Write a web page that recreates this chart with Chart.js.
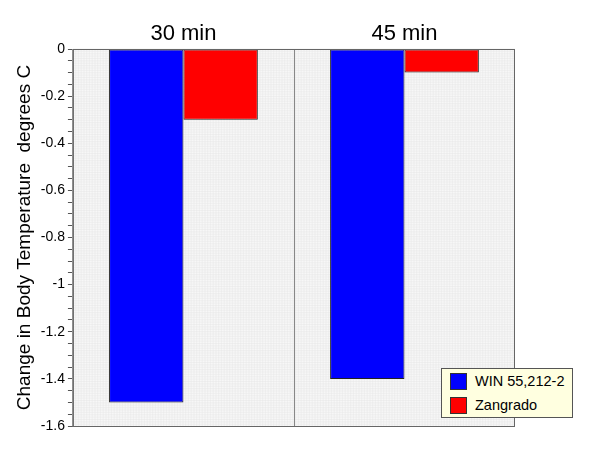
<!DOCTYPE html>
<html>
<head>
<meta charset="utf-8">
<script src="https://cdn.jsdelivr.net/npm/chart.js@4.4.1/dist/chart.umd.min.js"></script>
<style>
  body { margin: 0; background: #fff; }
  #wrap { position: relative; width: 600px; height: 473px; }
  #legend {
    position: absolute; left: 441px; top: 368px; width: 132px; height: 50px;
    background: #ffffe0; border: 1px solid #555; box-sizing: border-box;
    font-family: "Liberation Sans", Arial, sans-serif; font-size: 14.5px; color: #000;
  }
  #legend div { display: flex; align-items: center; height: 24px; padding-left: 8px; }
  #legend span.sw { width: 17px; height: 17px; border: 1px solid #333; box-sizing: border-box; margin-right: 8px; }
</style>
</head>
<body>
<div id="wrap">
  <canvas id="myChart" width="600" height="473"></canvas>
  <div id="legend"></div>
</div>
<script>
'use strict';

// Chart data
let categories = ['30 min', '45 min'];
let seriesNames = ['WIN 55,212-2', 'Zangrado'];
let winValues = [-1.5, -1.4];
let zangradoValues = [-0.3, -0.1];
let seriesColors = ['#0000ff', '#ff0000'];

// fine gray grid behind bars + frame around plot
let paperGrid = {
  id: 'paperGrid',
  beforeDatasetsDraw(chart) {
    let a = chart.chartArea;
    let ctx = chart.ctx;
    ctx.save();
    ctx.fillStyle = '#f7f7f7';
    ctx.fillRect(a.left, a.top, a.right - a.left, a.bottom - a.top);
    ctx.strokeStyle = '#e6e6e6';
    ctx.lineWidth = 0.5;
    ctx.beginPath();
    for (let x = a.left; x < a.right; x += 2.75) {
      ctx.moveTo(x, a.top);
      ctx.lineTo(x, a.bottom);
    }
    for (let y = a.top; y < a.bottom; y += 2.375) {
      ctx.moveTo(a.left, y);
      ctx.lineTo(a.right, y);
    }
    ctx.stroke();
    // category divider
    let xs = chart.scales.x;
    ctx.strokeStyle = '#888';
    ctx.lineWidth = 1;
    ctx.beginPath();
    for (let i = 1; i < categories.length; i++) {
      let mid = (xs.getPixelForValue(i - 1) + xs.getPixelForValue(i)) / 2;
      ctx.moveTo(Math.round(mid) + 0.5, a.top);
      ctx.lineTo(Math.round(mid) + 0.5, a.bottom);
    }
    ctx.stroke();
    ctx.restore();
  },
  afterDraw(chart) {
    let a = chart.chartArea;
    let ctx = chart.ctx;
    ctx.save();
    ctx.strokeStyle = '#666';
    ctx.lineWidth = 1;
    ctx.strokeRect(a.left + 0.5, a.top + 0.5, a.right - a.left - 1, a.bottom - a.top);
    ctx.restore();
  }
};

let ctx = document.getElementById('myChart').getContext('2d');
let myChart = new Chart(ctx, { // eslint-disable-line
  type: 'bar',
  data: {
    labels: categories,
    datasets: [
      {
        label: seriesNames[0],
        data: winValues,
        backgroundColor: seriesColors[0],
        borderColor: '#222',
        borderWidth: 1,
        borderSkipped: false
      },
      {
        label: seriesNames[1],
        data: zangradoValues,
        backgroundColor: seriesColors[1],
        borderColor: '#222',
        borderWidth: 1,
        borderSkipped: false
      }
    ]
  },
  options: {
    responsive: false,
    animation: false,
    devicePixelRatio: 1,
    layout: { padding: { left: 11, right: 85, top: 19, bottom: 47 } },
    datasets: { bar: { barPercentage: 1, categoryPercentage: 0.673 } },
    plugins: {
      legend: { display: false },
      tooltip: { enabled: false }
    },
    scales: {
      x: {
        position: 'top',
        grid: { display: false, drawTicks: false, tickLength: 0 },
        border: { display: false },
        ticks: {
          color: '#000',
          padding: 4,
          font: { family: 'Liberation Sans', size: 22, lineHeight: 1 }
        }
      },
      y: {
        min: -1.6,
        max: 0,
        afterBuildTicks(axis) {
          let t = [];
          for (let i = 0; i <= 32; i++) t.push({ value: -1.6 + i * 0.05 });
          axis.ticks = t;
        },
        grid: {
          drawOnChartArea: false,
          tickLength: 5,
          color: '#555'
        },
        border: { display: true, color: '#666' },
        ticks: {
          autoSkip: false,
          color: '#000',
          padding: 3,
          font: { family: 'Liberation Sans', size: 14 },
          callback(value) {
            let v = Math.round(value * 100) / 100;
            if (Math.abs(Math.round(v * 5) - v * 5) > 1e-6) return '';
            return String(v);
          }
        },
        title: {
          display: true,
          text: 'Change in Body Temperature  degrees C',
          color: '#000',
          padding: 2,
          font: { family: 'Liberation Sans', size: 19 }
        }
      }
    }
  },
  plugins: [paperGrid]
});

// legend box
let legendBox = document.getElementById('legend');
for (let i = 0; i < seriesNames.length; i++) {
  let row = document.createElement('div');
  row.innerHTML = `<span class="sw" style="background:${seriesColors[i]}"></span>${seriesNames[i]}`;
  legendBox.appendChild(row);
}
</script>
</body>
</html>
